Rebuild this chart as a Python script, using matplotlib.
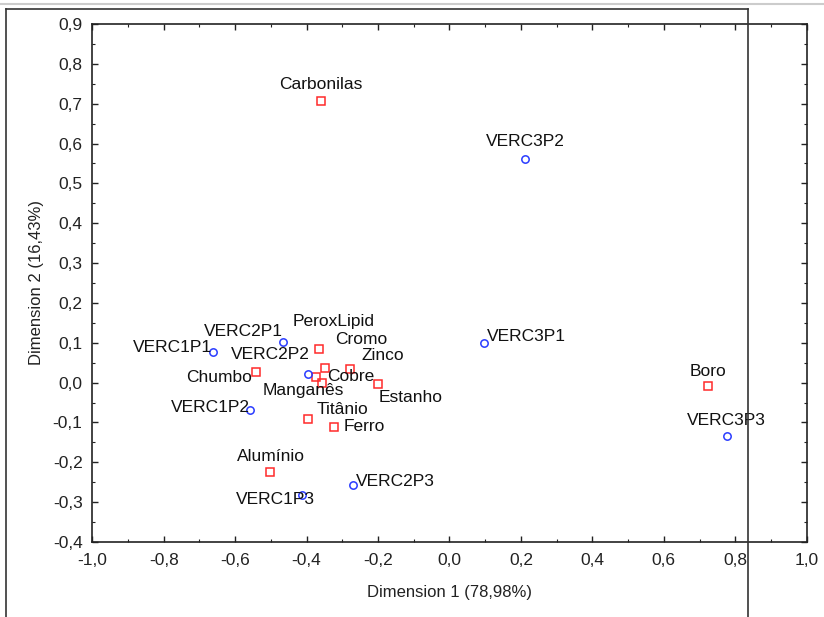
import numpy as np
import matplotlib
matplotlib.use('Agg')
import matplotlib.pyplot as plt
from matplotlib.ticker import MultipleLocator, FuncFormatter
from matplotlib.lines import Line2D

plt.rcParams['font.family'] = ['Liberation Sans', 'DejaVu Sans']

# variables (red squares)
row_labels = ['Carbonilas', 'PeroxLipid', 'Cromo', 'Zinco', 'Cobre', 'Manganês',
              'Chumbo', 'Estanho', 'Titânio', 'Ferro', 'Alumínio', 'Boro']
row_x = [-0.361, -0.364, -0.348, -0.278, -0.374, -0.357, -0.542, -0.200, -0.395, -0.323, -0.503, 0.723]
row_y = [0.707, 0.085, 0.036, 0.033, 0.015, -0.002, 0.027, -0.004, -0.092, -0.111, -0.224, -0.008]

# samples (blue circles)
col_labels = ['VERC1P1', 'VERC1P2', 'VERC1P3', 'VERC2P1', 'VERC2P2', 'VERC2P3',
              'VERC3P1', 'VERC3P2', 'VERC3P3']
col_x = [-0.661, -0.559, -0.414, -0.465, -0.397, -0.271, 0.097, 0.211, 0.776]
col_y = [0.078, -0.069, -0.282, 0.103, 0.022, -0.257, 0.099, 0.562, -0.133]

x_ticks = np.round(np.arange(-1.0, 1.01, 0.2), 1)
y_ticks = np.round(np.arange(-0.4, 0.91, 0.1), 1)

# label placement (pixel offsets, alignment)
row_off = [(0, 16, 'center'), (14, 27, 'center'), (36, 29, 'center'), (33, 14, 'center'),
           (35, 0, 'center'), (-19, -7, 'center'), (-4, -6, 'right'), (33, -13, 'center'),
           (34, 10, 'center'), (10, 0, 'left'), (1, 15, 'center'), (0, 14, 'center')]
col_off = [(-1, 4, 'right'), (0, 3, 'right'), (-26, -5, 'center'), (0, 10, 'right'),
           (-37, 19, 'center'), (3, 3, 'left'), (3, 7, 'left'), (0, 17, 'center'), (0, 15, 'center')]

fig = plt.figure(figsize=(8.24, 6.17), dpi=100)
ax = fig.add_axes([0.112, 0.1216, 0.867, 0.8395])

ax.plot(row_x, row_y, 's', ls='none', ms=5.3, mfc='none', mec='#ff2a2a', mew=1.1)
ax.plot(col_x, col_y, 'o', ls='none', ms=5.3, mfc='none', mec='#2a3cff', mew=1.1)

for lab, x, y, (dx, dy, ha) in zip(row_labels, row_x, row_y, row_off):
    ax.annotate(lab, (x, y), xytext=(dx, dy), textcoords='offset pixels',
                ha=ha, va='center', fontsize=12.5, color='#111111')
for lab, x, y, (dx, dy, ha) in zip(col_labels, col_x, col_y, col_off):
    ax.annotate(lab, (x, y), xytext=(dx, dy), textcoords='offset pixels',
                ha=ha, va='center', fontsize=12.5, color='#111111')

ax.set_xlim(-1.0, 1.0)
ax.set_ylim(-0.4, 0.9)
ax.set_xticks(x_ticks)
ax.set_yticks(y_ticks)
ax.xaxis.set_minor_locator(MultipleLocator(0.1))
ax.yaxis.set_minor_locator(MultipleLocator(0.05))
fmt = FuncFormatter(lambda v, p: f'{v:.1f}'.replace('.', ',').replace('-0,0', '0,0'))
ax.xaxis.set_major_formatter(fmt)
ax.yaxis.set_major_formatter(fmt)
ax.tick_params(which='both', direction='in', top=True, right=True, labelsize=12.5, colors='#222222')
ax.tick_params(which='major', length=4, width=1)
ax.tick_params(which='minor', length=2, width=0.8)
ax.tick_params(axis='x', pad=8)
ax.tick_params(axis='y', pad=7)
for s in ax.spines.values():
    s.set_linewidth(1.2)
    s.set_color('#222222')

ax.set_xlabel('Dimension 1 (78,98%)', fontsize=12, labelpad=12, color='#222222')
ax.set_ylabel('Dimension 2 (16,43%)', fontsize=12, labelpad=6, color='#222222')

# screenshot frame around the chart
W, H = 824, 617
fig.add_artist(Line2D([0, 1], [1 - 4 / H, 1 - 4 / H], color='#cccccc', lw=1.5))
fig.add_artist(Line2D([6 / W, 748 / W], [1 - 9 / H, 1 - 9 / H], color='#333333', lw=1.2))
fig.add_artist(Line2D([6 / W, 6 / W], [0, 1 - 9 / H], color='#333333', lw=1.2))
fig.add_artist(Line2D([748 / W, 748 / W], [0, 1 - 9 / H], color='#333333', lw=1.2))

fig.savefig('out.png', dpi=100)
